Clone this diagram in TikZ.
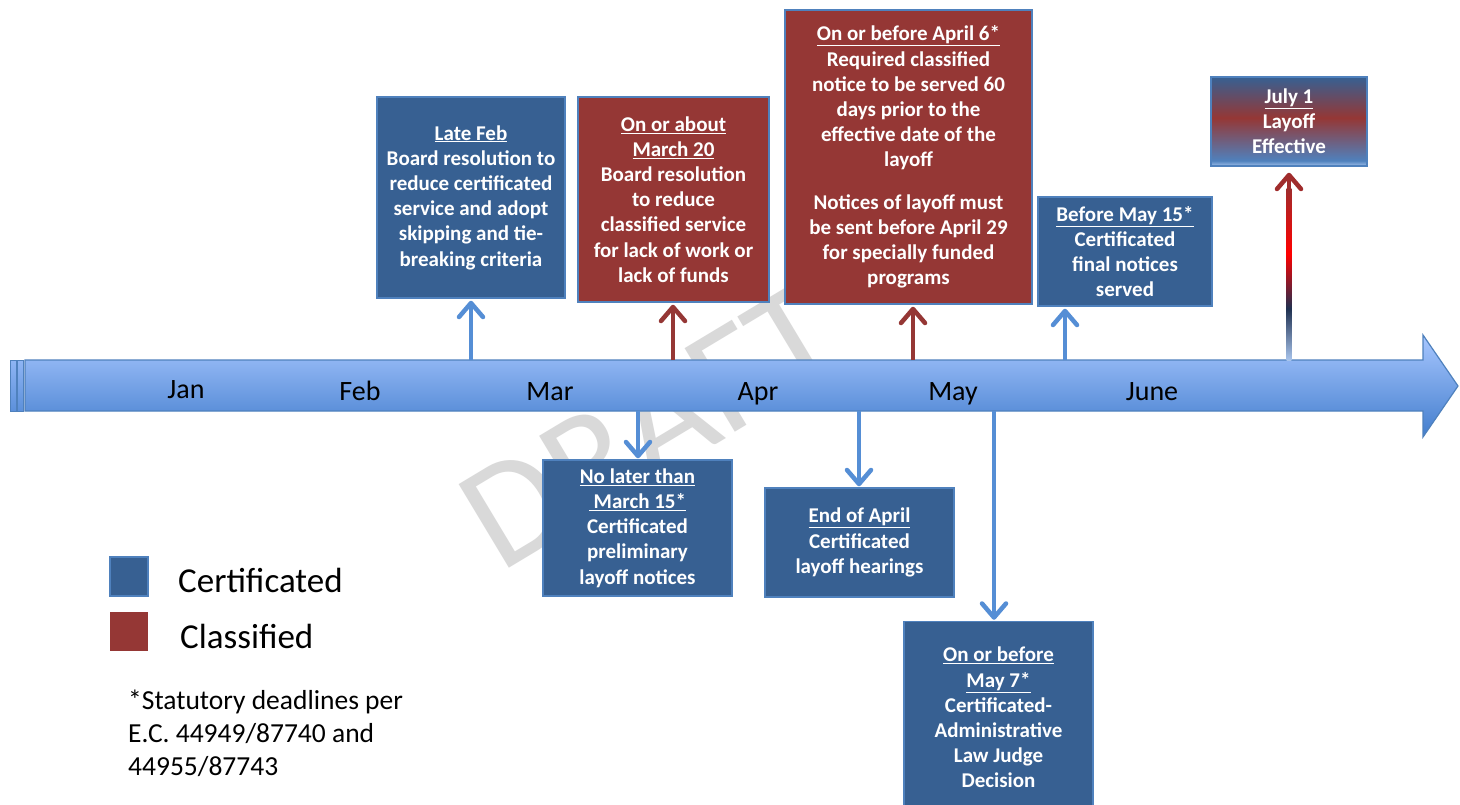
\documentclass[tikz,border=0pt]{standalone}
\usepackage{fontspec}
\setmainfont{Carlito}
\usetikzlibrary{arrows.meta,calc}
\definecolor{certblue}{HTML}{376092}
\definecolor{classred}{HTML}{953735}
\definecolor{edgeblue}{HTML}{4F81BD}
\definecolor{arrblue}{HTML}{558ED5}
\definecolor{wmgray}{HTML}{D9D9D9}
\definecolor{tltop}{HTML}{A8C7FF}
\definecolor{tlbot}{HTML}{427DCD}
\definecolor{barTop}{HTML}{8FB5F4}
\definecolor{barBot}{HTML}{5C90DA}
\definecolor{jlight}{HTML}{A0C0EA}
\definecolor{jdarkred}{HTML}{A02C2C}
\definecolor{jbright}{HTML}{FF0000}
\definecolor{jnavy}{HTML}{1F3050}
\definecolor{jshaftlow}{HTML}{A8C4EC}
\pgfdeclareverticalshading{julybox}{100bp}{color(0bp)=(jlight); color(25bp)=(jlight); color(28bp)=(edgeblue); color(52bp)=(classred); color(75bp)=(certblue); color(100bp)=(certblue)}
\pgfdeclareverticalshading{julyshaft}{100bp}{color(0bp)=(jshaftlow); color(25bp)=(jshaftlow); color(40bp)=(jnavy); color(56bp)=(jbright); color(75bp)=(jdarkred); color(100bp)=(jdarkred)}
\newcommand{\evfont}{\bfseries\fontsize{21}{25.2}\selectfont}
\begin{document}
\begin{tikzpicture}[x=1pt,y=-1pt,
  evbox/.style={draw=edgeblue, line width=1.5pt, text=white, align=center, inner sep=0pt, font=\evfont},
  cert/.style={evbox, fill=certblue},
  clas/.style={evbox, fill=classred},
  conn/.style={line width=4.5pt, -{Straight Barb[length=14pt,width=24pt,round]}},
  month/.style={anchor=base, font=\fontsize{28}{32}\selectfont},
  legtext/.style={anchor=base west, inner sep=0pt, font=\fontsize{35}{42}\selectfont},
  legsq/.style={minimum width=38pt, minimum height=39pt, inner sep=0pt}
]
\useasboundingbox (0,0) rectangle (1460,804);
\fill[white] (0,0) rectangle (1460,804);

% watermark
\node[text=wmgray, inner sep=0pt, font=\fontsize{152}{152}\selectfont, rotate=31] (draft) at (650,427) {DRAFT};

% timeline
\path[draw=edgeblue, line width=1.2pt, top color=tltop, bottom color=tlbot]
  (25,360) -- (1423,360) -- (1423,335) -- (1458,386) -- (1423,437) -- (1423,411) -- (25,411) -- cycle;
\path[draw=edgeblue, line width=0.8pt, top color=barTop, bottom color=barBot] (10,360) rectangle (16,411);
\path[draw=edgeblue, line width=0.8pt, top color=barTop, bottom color=barBot] (17.5,360) rectangle (23.5,411);

% months
\node[month] (jan) at (186,398) {Jan};
\node[month] (feb) at (360,400) {Feb};
\node[month] (mar) at (550,400) {Mar};
\node[month] (apr) at (758,400) {Apr};
\node[month] (may) at (953,400) {May};
\node[month] (jun) at (1152,400) {June};

% roots on the timeline
\coordinate (rFeb) at (471,360);
\coordinate (rM20) at (673,360);
\coordinate (rA6) at (913,360);
\coordinate (rM15) at (1065,360);
\coordinate (rJul) at (1289,360);
\coordinate (rMar15) at (638,411);
\coordinate (rEA) at (859,411);
\coordinate (rM7) at (994,411);

% boxes
\node[cert, minimum width=188pt, minimum height=201pt] (lateFeb) at (471,197.5)
  {\underline{Late Feb}\\Board resolution to\\reduce certificated\\service and adopt\\skipping and tie-\\breaking criteria};
\node[clas, minimum width=191pt, minimum height=205pt] (mar20) at (673.5,199.5)
  {\underline{On or about}\\\underline{March 20}\\Board resolution\\to reduce\\classified service\\for lack of work or\\lack of funds};
\node[clas, minimum width=247pt, minimum height=294pt] (apr6) at (908.5,157)
  {\underline{On or before April 6*}\\Required classified\\notice to be served 60\\days prior to the\\effective date of the\\layoff\\[17pt]Notices of layoff must\\be sent before April 29\\for specially funded\\programs};
\node[cert, minimum width=174pt, minimum height=109pt] (may15) at (1125,251.5)
  {\underline{Before May 15*}\\Certificated\\final notices\\served};
\node[evbox, shade, shading=julybox, minimum width=156pt, minimum height=89pt] (jul1) at (1289,121.5)
  {\underline{July 1}\\Layoff\\Effective};
\node[cert, minimum width=189pt, minimum height=136pt] (mar15) at (637.5,528)
  {\underline{No later than}\\\underline{\ March 15*}\\Certificated\\preliminary\\layoff notices};
\node[cert, minimum width=189pt, minimum height=109pt] (endApr) at (859.5,542.5)
  {\underline{End of April}\\Certificated\\layoff hearings};
\node[cert, minimum width=189pt, minimum height=192pt] (may7) at (998.5,717.5)
  {\underline{On or before}\\\underline{May 7*}\\Certificated-\\Administrative\\Law Judge\\Decision};

% connectors
\draw[conn, arrblue] (rFeb) -- ($(rFeb |- lateFeb.south)+(0,2)$);
\draw[conn, classred] (rM20) -- ($(rM20 |- mar20.south)+(0,2)$);
\draw[conn, classred] (rA6) -- ($(rA6 |- apr6.south)+(0,2)$);
\draw[conn, arrblue] (rM15) -- ($(rM15 |- may15.south)+(0,2)$);
\draw[conn, arrblue] (rMar15) -- ($(rMar15 |- mar15.north)+(0,-1)$);
\draw[conn, arrblue] (rEA) -- ($(rEA |- endApr.north)+(0,-1)$);
\draw[conn, arrblue] (rM7) -- ($(rM7 |- may7.north)+(0,-1)$);
% July arrow with graded shaft
\path[shading=julyshaft] ($(rJul)+(-2.4,0)$) rectangle ($(rJul |- jul1.south)+(2.4,22)$);
\draw[conn, jdarkred] ($(rJul |- jul1.south)+(0,26)$) -- ($(rJul |- jul1.south)+(0,6)$);

% legend
\node[legsq, draw=edgeblue, line width=1.2pt, fill=certblue] (legC) at (129,576.5) {};
\node[legsq, fill=classred] (legR) at (129,631.5) {};
\node[legtext] (legCt) at (178,592) {Certificated};
\node[legtext] (legRt) at (180,648) {Classified};
\node[anchor=north west, align=left, inner sep=0pt, font=\fontsize{27.5}{33}\selectfont] (note) at (128,690)
  {*Statutory deadlines per\\E.C. 44949/87740 and\\44955/87743};
\end{tikzpicture}
\end{document}
